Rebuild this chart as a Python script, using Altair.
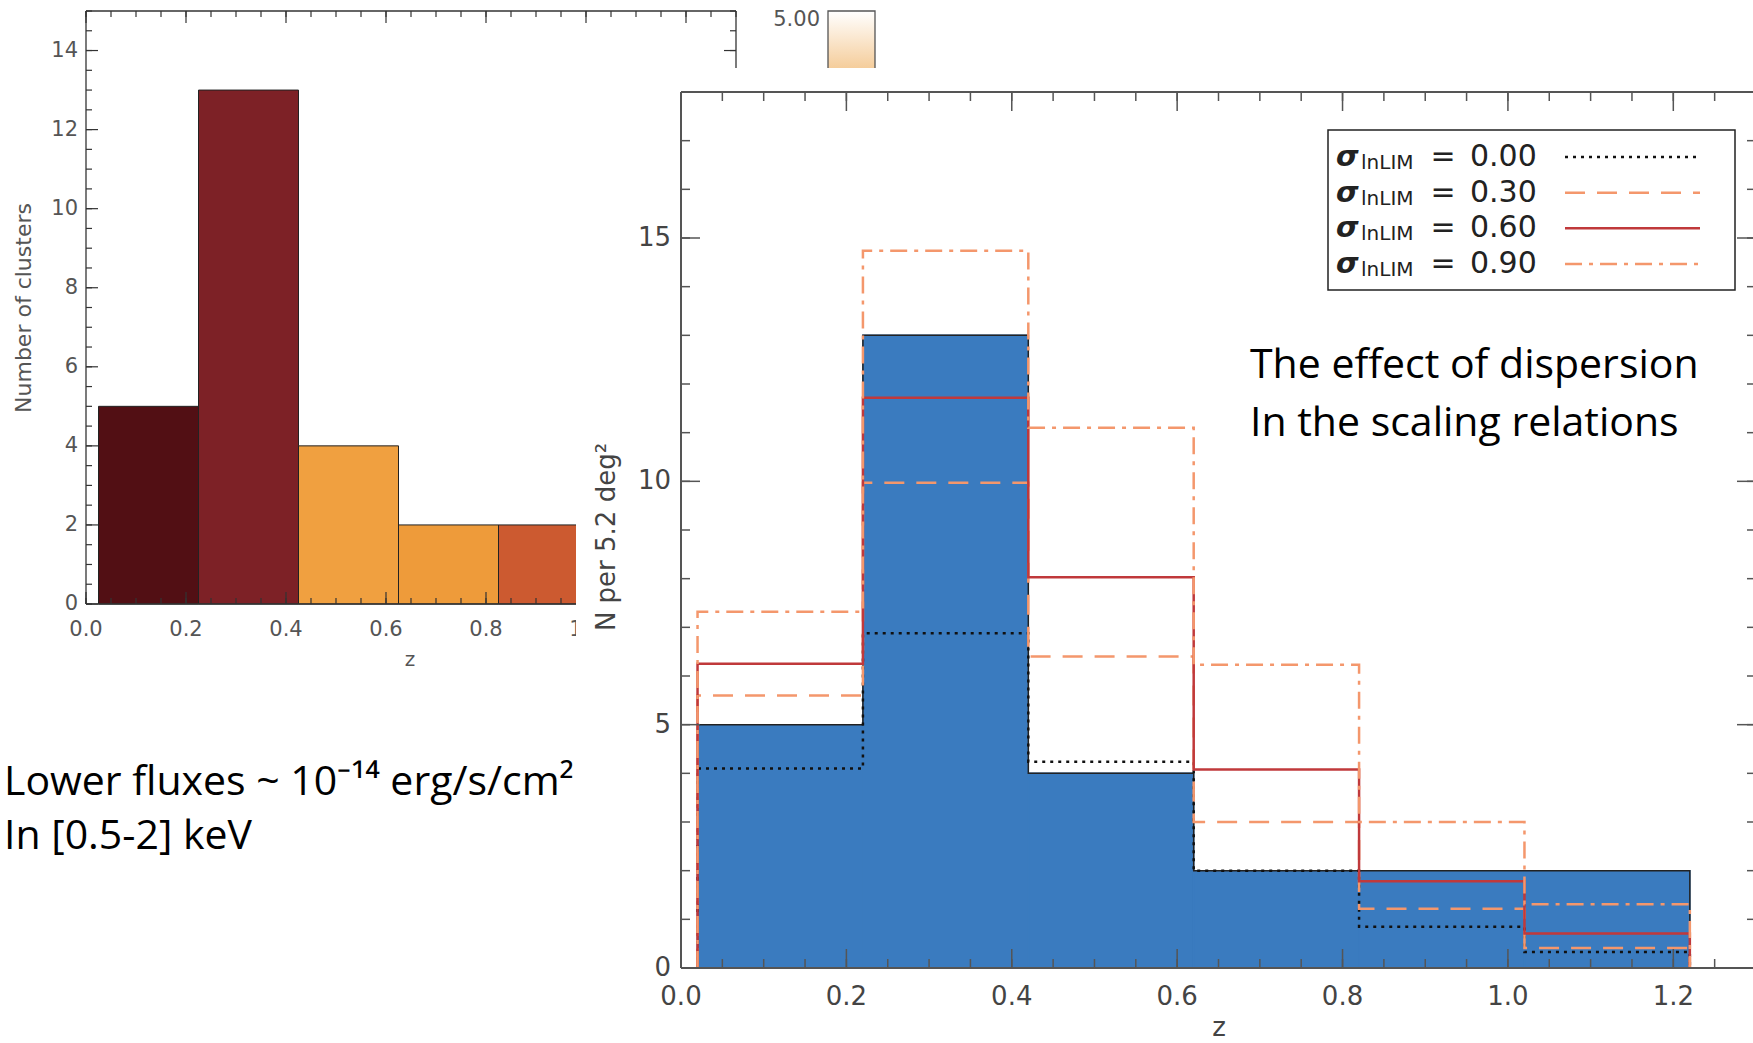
import altair as alt
import pandas as pd

W, H = 1753, 1043
FONT = "DejaVu Sans"
SLIDE_FONT = "Open Sans"

# ---------------- data ----------------
# left panel: histogram of the number of clusters
left_bin_lo = [0.025, 0.225, 0.425, 0.625, 0.825]
left_bin_hi = [0.225, 0.425, 0.625, 0.825, 1.025]
left_counts = [5, 13, 4, 2, 2]
left_colors = ["#520f14", "#7d2126", "#f0a040", "#ee9b3a", "#cc5a30"]
left_x_labels = [0.0, 0.2, 0.4, 0.6, 0.8, 1.0, 1.2]
left_y_labels = [0, 2, 4, 6, 8, 10, 12, 14]
left_x_title = "z"
left_y_title = "Number of clusters"

# right panel: N per 5.2 deg^2
right_edges = [0.02, 0.22, 0.42, 0.62, 0.82, 1.02, 1.22]
right_counts = [5, 13, 4, 2, 2, 2]
sigma_labels = ["0.00", "0.30", "0.60", "0.90"]
sigma_000 = [4.1, 6.88, 4.24, 2.0, 0.85, 0.33]
sigma_030 = [5.6, 9.97, 6.4, 3.0, 1.22, 0.41]
sigma_060 = [6.25, 11.72, 8.03, 4.08, 1.78, 0.71]
sigma_090 = [7.32, 14.74, 11.1, 6.23, 3.0, 1.31]
right_x_labels = [0.0, 0.2, 0.4, 0.6, 0.8, 1.0, 1.2]
right_y_labels = [0, 5, 10, 15]
right_x_title = "z"
right_y_title = "N per 5.2 deg\u00b2"

colorbar_label = "5.00"
note_right = ["The effect of dispersion", "In the scaling relations"]
note_left = ["Lower fluxes ~ 10\u207b\u00b9\u2074 erg/s/cm\u00b2", "In [0.5-2] keV"]

# ---------------- styles ----------------
sigma_colors = ["#111111", "#f4976c", "#c0393b", "#f4976c"]
sigma_dashes = [[3, 5], [20, 12], [1, 0], [17, 7, 4, 7]]
BLUE = "#3a7bbf"

xL = alt.Scale(domain=[0, 1.3], range=[86, 736], nice=False, zero=False)
yL = alt.Scale(domain=[0, 15], range=[604, 11], nice=False, zero=False)
xR = alt.Scale(domain=[0, 1.3], range=[681, 1756], nice=False, zero=False)
yR = alt.Scale(domain=[0, 18], range=[968, 92], nice=False, zero=False)

one = pd.DataFrame({"a": [0]})


def frange(start, stop, step):
    n = int(round((stop - start) / step))
    return [round(start + k * step, 4) for k in range(n + 1)]


def tick_layers(xs, ys, xdom, ydom, xmaj, xmin, ymaj, ymin, lmaj, lmin, color, width):
    out = []
    for vals, ln in ((xmaj, lmaj), (xmin, lmin)):
        base = alt.Chart(pd.DataFrame({"v": vals}))
        for yv, sign in ((ydom[0], -1), (ydom[1], 1)):
            out.append(
                base.mark_rule(color=color, strokeWidth=width, y2Offset=sign * ln).encode(
                    x=alt.X("v:Q", scale=xs, axis=None),
                    y=alt.YDatum(yv, scale=ys, axis=None),
                    y2=alt.Y2Datum(yv),
                )
            )
    for vals, ln in ((ymaj, lmaj), (ymin, lmin)):
        base = alt.Chart(pd.DataFrame({"v": vals}))
        for xv, sign in ((xdom[0], 1), (xdom[1], -1)):
            out.append(
                base.mark_rule(color=color, strokeWidth=width, x2Offset=sign * ln).encode(
                    y=alt.Y("v:Q", scale=ys, axis=None),
                    x=alt.XDatum(xv, scale=xs, axis=None),
                    x2=alt.X2Datum(xv),
                )
            )
    return out


def frame_layers(xs, ys, xdom, ydom, color, width):
    out = []
    for yv in ydom:
        out.append(alt.Chart(one).mark_rule(color=color, strokeWidth=width).encode(
            x=alt.XDatum(xdom[0], scale=xs, axis=None), x2=alt.X2Datum(xdom[1]),
            y=alt.YDatum(yv, scale=ys, axis=None)))
    for xv in xdom:
        out.append(alt.Chart(one).mark_rule(color=color, strokeWidth=width).encode(
            y=alt.YDatum(ydom[0], scale=ys, axis=None), y2=alt.Y2Datum(ydom[1]),
            x=alt.XDatum(xv, scale=xs, axis=None)))
    return out


def label_layers(xs, ys, xdom, ydom, xvals, yvals, xfmt, yfmt, size, color, xdy, ydx):
    dfx = pd.DataFrame({"v": xvals, "t": [xfmt.format(v) for v in xvals]})
    dfy = pd.DataFrame({"v": yvals, "t": [yfmt.format(v) for v in yvals]})
    lx = alt.Chart(dfx).mark_text(font=FONT, fontSize=size, color=color, align="center",
                                  baseline="middle", dy=xdy).encode(
        x=alt.X("v:Q", scale=xs, axis=None), y=alt.YDatum(ydom[0], scale=ys, axis=None), text="t:N")
    ly = alt.Chart(dfy).mark_text(font=FONT, fontSize=size, color=color, align="right",
                                  baseline="middle", dx=-ydx).encode(
        y=alt.Y("v:Q", scale=ys, axis=None), x=alt.XDatum(xdom[0], scale=xs, axis=None), text="t:N")
    return [lx, ly]


def title_text(text, x, y, size, color, angle=0, baseline="middle"):
    return alt.Chart(pd.DataFrame({"t": [text]})).mark_text(
        font=FONT, fontSize=size, color=color, align="center", baseline=baseline, angle=angle
    ).encode(text="t:N", x=alt.value(x), y=alt.value(y))


# ---------------- left panel ----------------
dfL = pd.DataFrame({"lo": left_bin_lo, "hi": left_bin_hi, "n": left_counts, "c": left_colors})

barsL = alt.Chart(dfL).mark_rect(stroke="#222", strokeWidth=1).encode(
    x=alt.X("lo:Q", scale=xL, axis=None),
    x2="hi:Q",
    y=alt.Y("n:Q", scale=yL, axis=None),
    y2=alt.Y2Datum(0),
    fill=alt.Fill("c:N", scale=None),
)

left_group = alt.layer(
    barsL,
    *frame_layers(xL, yL, (0, 1.3), (0, 15), "#333", 1.3),
    *tick_layers(xL, yL, (0, 1.3), (0, 15),
                 frange(0, 1.2, 0.2), frange(0, 1.3, 0.05),
                 frange(0, 14, 2), frange(0, 15, 0.5), 12, 6, "#333", 1.2),
    *label_layers(xL, yL, (0, 1.3), (0, 15), left_x_labels, left_y_labels,
                  "{:.1f}", "{:d}", 21, "#555", 26, 8),
)
left_titles = [
    title_text(left_x_title, 410, 660, 20, "#555"),
    title_text(left_y_title, 24, 308, 22, "#555", angle=270),
]

# ---------------- colour bar fragment + covering panel ----------------
grad = alt.Gradient(
    gradient="linear",
    stops=[alt.GradientStop(color="#ffffff", offset=0), alt.GradientStop(color="#f4c891", offset=1)],
    x1=0, x2=0, y1=0, y2=1)
colorbar = alt.Chart(one).mark_rect(fill=grad, stroke="#555", strokeWidth=1.3).encode(
    x=alt.value(828), x2=alt.value(875), y=alt.value(11), y2=alt.value(74))
colorbar_text = alt.Chart(pd.DataFrame({"t": [colorbar_label]})).mark_text(
    font=FONT, fontSize=21, color="#555", align="right", baseline="middle").encode(
    text="t:N", x=alt.value(820), y=alt.value(20))
cover = alt.Chart(one).mark_rect(fill="white").encode(
    x=alt.value(576), x2=alt.value(W), y=alt.value(68), y2=alt.value(H))

# ---------------- right panel ----------------


def step_rows(values, name):
    pts = [(right_edges[0], 0)]
    for i, v in enumerate(values):
        pts.append((right_edges[i], v))
        pts.append((right_edges[i + 1], v))
    pts.append((right_edges[-1], 0))
    return [{"series": name, "order": k, "z": x, "n": y} for k, (x, y) in enumerate(pts)]


rows = []
for name, vals in zip(sigma_labels, [sigma_000, sigma_030, sigma_060, sigma_090]):
    rows += step_rows(vals, name)
dfS = pd.DataFrame(rows)
dfO = pd.DataFrame(step_rows(right_counts, "data"))
dfR = pd.DataFrame({"lo": right_edges[:-1], "hi": right_edges[1:], "n": right_counts})

fillR = alt.Chart(dfR).mark_rect(fill=BLUE, stroke=BLUE, strokeWidth=1.5).encode(
    x=alt.X("lo:Q", scale=xR, axis=None),
    x2="hi:Q",
    y=alt.Y("n:Q", scale=yR, axis=None),
    y2=alt.Y2Datum(0),
)
outlineR = alt.Chart(dfO).mark_line(color="#222", strokeWidth=1.5).encode(
    x=alt.X("z:Q", scale=xR, axis=None),
    y=alt.Y("n:Q", scale=yR, axis=None),
    order="order:Q",
)
colour_scale = alt.Scale(domain=sigma_labels, range=sigma_colors)
dash_scale = alt.Scale(domain=sigma_labels, range=sigma_dashes)
linesR = alt.Chart(dfS).mark_line(strokeWidth=2.5).encode(
    x=alt.X("z:Q", scale=xR, axis=None),
    y=alt.Y("n:Q", scale=yR, axis=None),
    color=alt.Color("series:N", scale=colour_scale, legend=None),
    strokeDash=alt.StrokeDash("series:N", scale=dash_scale, legend=None),
    order="order:Q",
)

right_group = alt.layer(
    fillR, outlineR, linesR,
    *frame_layers(xR, yR, (0, 1.3), (0, 18), "#555", 2),
    *tick_layers(xR, yR, (0, 1.3), (0, 18),
                 frange(0, 1.2, 0.2), frange(0, 1.3, 0.05),
                 frange(0, 15, 5), frange(0, 18, 1), 19, 9, "#555", 1.5),
    *label_layers(xR, yR, (0, 1.3), (0, 18), right_x_labels, right_y_labels,
                  "{:.1f}", "{:d}", 26, "#444", 29, 10),
)
right_titles = [
    title_text(right_x_title, 1219, 1036, 26, "#444", baseline="alphabetic"),
    title_text(right_y_title, 607, 537, 26, "#444", angle=270),
]

# ---------------- legend ----------------
legend_box = alt.Chart(one).mark_rect(fill="white", stroke="#222", strokeWidth=1.5).encode(
    x=alt.value(1328), x2=alt.value(1735), y=alt.value(130), y2=alt.value(290))
dfLeg = pd.DataFrame({"series": sigma_labels})
yLeg = alt.Y("series:N", scale=alt.Scale(type="point", domain=sigma_labels, range=[157, 264], padding=0), axis=None)
leg_base = alt.Chart(dfLeg)
legend_group = alt.layer(
    leg_base.mark_text(text="\u03c3", font=FONT, fontSize=29, fontWeight="bold", fontStyle="italic",
                       color="#222", align="left", baseline="middle").encode(x=alt.value(1336), y=yLeg),
    leg_base.mark_text(text="lnLIM", font=FONT, fontSize=20, color="#222", align="left",
                       baseline="middle", dy=6).encode(x=alt.value(1361), y=yLeg),
    leg_base.mark_text(text="=", font=FONT, fontSize=30, color="#222", align="center",
                       baseline="middle").encode(x=alt.value(1443), y=yLeg),
    leg_base.mark_text(font=FONT, fontSize=30, color="#222", align="left",
                       baseline="middle").encode(text="series:N", x=alt.value(1470), y=yLeg),
    leg_base.mark_rule(strokeWidth=2.5).encode(
        x=alt.value(1565), x2=alt.value(1700), y=yLeg,
        color=alt.Color("series:N", scale=colour_scale, legend=None),
        strokeDash=alt.StrokeDash("series:N", scale=dash_scale, legend=None)),
)

# ---------------- slide notes ----------------
dfNR = pd.DataFrame({"t": note_right, "line": [0, 1]})
dfNL = pd.DataFrame({"t": note_left, "line": [0, 1]})
notesR = alt.Chart(dfNR).mark_text(font=SLIDE_FONT, fontSize=41, color="#000", align="left",
                                   baseline="alphabetic").encode(
    text="t:N", x=alt.value(1250),
    y=alt.Y("line:O", scale=alt.Scale(type="point", domain=[0, 1], range=[378, 436], padding=0), axis=None))
notesL = alt.Chart(dfNL).mark_text(font=SLIDE_FONT, fontSize=41, color="#000", align="left",
                                   baseline="alphabetic").encode(
    text="t:N", x=alt.value(4),
    y=alt.Y("line:O", scale=alt.Scale(type="point", domain=[0, 1], range=[795, 849], padding=0), axis=None))

chart = alt.layer(
    left_group, *left_titles, colorbar, colorbar_text, cover, right_group, *right_titles,
    legend_box, legend_group, notesR, notesL
).resolve_scale(
    x="independent", y="independent", color="independent", strokeDash="independent"
).properties(
    width=W, height=H, autosize=alt.AutoSizeParams(type="none"), padding=0, background="white"
).configure_view(strokeWidth=0)

chart.save("out.html", embed_options={"renderer": "svg", "actions": False})
